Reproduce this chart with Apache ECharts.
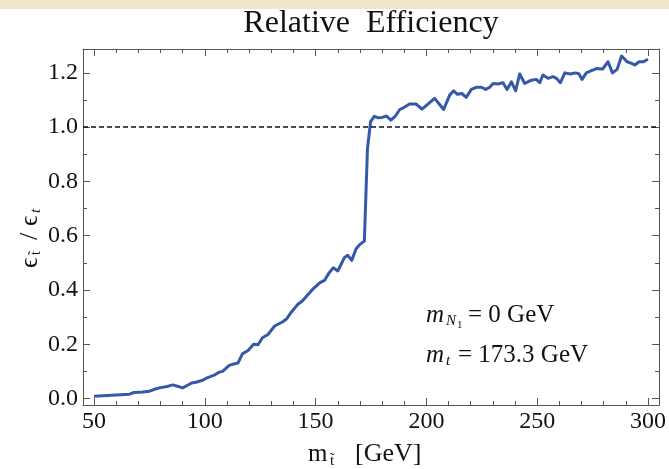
<!DOCTYPE html>
<html><head><meta charset="utf-8">
<script src="https://cdn.jsdelivr.net/npm/echarts@6/dist/echarts.min.js"></script>
<style>html,body{margin:0;padding:0;background:#fff}#c{width:669px;height:469px}</style>
</head><body><div id="c"></div>
<script>
const masses = [50,54,58,62,66,68,72,75,78,80,83,85.5,88,90,92,94,96,99,101,104,106.5,108,111,113.5,115,117,119.5,122,124,126,128.5,131.5,135,137,139,142,144,146.5,149,152,154,156,158,160,163,164.5,166.3,168.3,170,172,172.6,173.4,174.8,176.5,178,180,182,184,186,188,190,192.4,195.4,198,200.7,203.7,205.6,207.8,210.5,212.3,214,216,218,220.3,222.5,224.8,226.8,228.6,230.1,232.3,234.6,236.4,238.4,240.3,242.1,244.4,247.4,249.6,251.2,252.6,254.9,257.2,258.7,260.5,262.5,265,267.3,268.8,270.3,272.2,274.5,276.8,279.5,282,284,286.1,288.1,290.6,292.6,294.1,296,298,300];
const efficiency = [0.008,0.010,0.012,0.014,0.016,0.022,0.024,0.027,0.036,0.040,0.044,0.050,0.044,0.039,0.048,0.057,0.060,0.067,0.076,0.085,0.097,0.100,0.122,0.128,0.131,0.165,0.177,0.200,0.198,0.224,0.236,0.267,0.282,0.294,0.318,0.347,0.359,0.382,0.405,0.427,0.435,0.462,0.482,0.470,0.519,0.528,0.509,0.552,0.568,0.580,0.583,0.92,1.02,1.04,1.035,1.036,1.041,1.026,1.041,1.065,1.073,1.085,1.085,1.066,1.085,1.106,1.087,1.065,1.118,1.134,1.121,1.124,1.110,1.139,1.147,1.147,1.139,1.147,1.161,1.159,1.164,1.139,1.167,1.134,1.196,1.161,1.173,1.176,1.164,1.192,1.180,1.186,1.180,1.164,1.200,1.196,1.200,1.197,1.176,1.200,1.208,1.216,1.214,1.241,1.200,1.213,1.262,1.241,1.235,1.229,1.241,1.241,1.250];
const referenceLevel = 1.0;
const xMajor = [50,100,150,200,250,300];
const xMinor = [60,70,80,90,110,120,130,140,160,170,180,190,210,220,230,240,260,270,280,290];
const yMajor = [0,0.2,0.4,0.6,0.8,1.0,1.2];
const yMinor = [0.1,0.3,0.5,0.7,0.9,1.1];

const FONT = '"Liberation Serif","DejaVu Serif",serif';
const frameColor = '#555';
const chart = echarts.init(document.getElementById('c'));
const tickStyle = {color: frameColor, width: 1};
function xAx(pos, ticks, len, lbl, line) {
  return {type:'value', min:45, max:305, position:pos, gridIndex:0,
    axisLine:{show:line, onZero:false, lineStyle:{color:frameColor, width:1}},
    axisTick:{show:true, inside:true, length:len, customValues:ticks, lineStyle:tickStyle},
    axisLabel:{show:lbl, customValues:ticks, fontFamily:FONT, fontSize:24, color:'#111', margin:5},
    splitLine:{show:false}};
}
function yAx(pos, ticks, len, lbl, line) {
  return {type:'value', min:-0.024, max:1.288, position:pos, gridIndex:0,
    axisLine:{show:line, onZero:false, lineStyle:{color:frameColor, width:1}},
    axisTick:{show:true, inside:true, length:len, customValues:ticks, lineStyle:tickStyle},
    axisLabel:{show:lbl, customValues:ticks, fontFamily:FONT, fontSize:24, color:'#111', margin:5,
      formatter:v=>v.toFixed(1)},
    splitLine:{show:false}};
}
function txt(x, y, s, size, italic, extra) {
  return Object.assign({type:'text', x:x, y:y, silent:true,
    style:{text:s, font:(italic?'italic ':'')+size+'px '+FONT, fill:'#111', verticalAlign:'middle', align:'left'}}, extra||{});
}
const option = {
  animation:false,
  backgroundColor:'#fff',
  grid:{left:83, right:10, top:49, bottom:64, containLabel:false},
  xAxis:[xAx('bottom',xMajor,7,true,true), xAx('bottom',xMinor,4,false,false),
         xAx('top',xMajor,7,false,true), xAx('top',xMinor,4,false,false)],
  yAxis:[yAx('left',yMajor,7,true,true), yAx('left',yMinor,4,false,false),
         yAx('right',yMajor,7,false,true), yAx('right',yMinor,4,false,false)],
  series:[{
    type:'line', xAxisIndex:0, yAxisIndex:0,
    data: masses.map((m,i)=>[m, efficiency[i]]),
    showSymbol:false, symbol:'none',
    lineStyle:{color:'#3459a9', width:3, join:'round'},
    markLine:{silent:true, symbol:'none', label:{show:false},
      lineStyle:{color:'#111', type:[5,3], width:1.6},
      data:[{yAxis:referenceLevel}]}
  }],
  graphic:[
    {type:'rect', left:0, top:0, shape:{width:669, height:9}, style:{fill:'#efe6c7'}, silent:true},
    {type:'text', x:371, y:24, silent:true, style:{text:'Relative  Efficiency', font:'32px '+FONT, fill:'#111', align:'center', verticalAlign:'middle'}},
    // x axis name
    txt(308, 454, 'm', 25, false),
    txt(330, 461, 't\u0303', 15, false),
    txt(355, 454, '[GeV]', 26, false),
    // y axis name (rotated, reading upward)
    {type:'group', x:30, y:268, rotation:Math.PI/2, children:[
      txt(0, 0, '\u03F5', 26, false),
      txt(13, 6, 't\u0303', 14, false),
      txt(28, 0, '/', 26, false),
      txt(42, 0, '\u03F5', 26, false),
      txt(55, 6, 't', 15, true)
    ]},
    // annotations
    txt(426, 315, 'm', 25, true),
    txt(446, 321, 'N', 15, true),
    txt(457, 325, '1', 11, false),
    txt(468, 315, '= 0 GeV', 25, false),
    txt(426, 355, 'm', 25, true),
    txt(446, 361, 't', 15, true),
    txt(458, 355, '= 173.3 GeV', 25, false)
  ]
};
chart.setOption(option);
</script></body></html>
